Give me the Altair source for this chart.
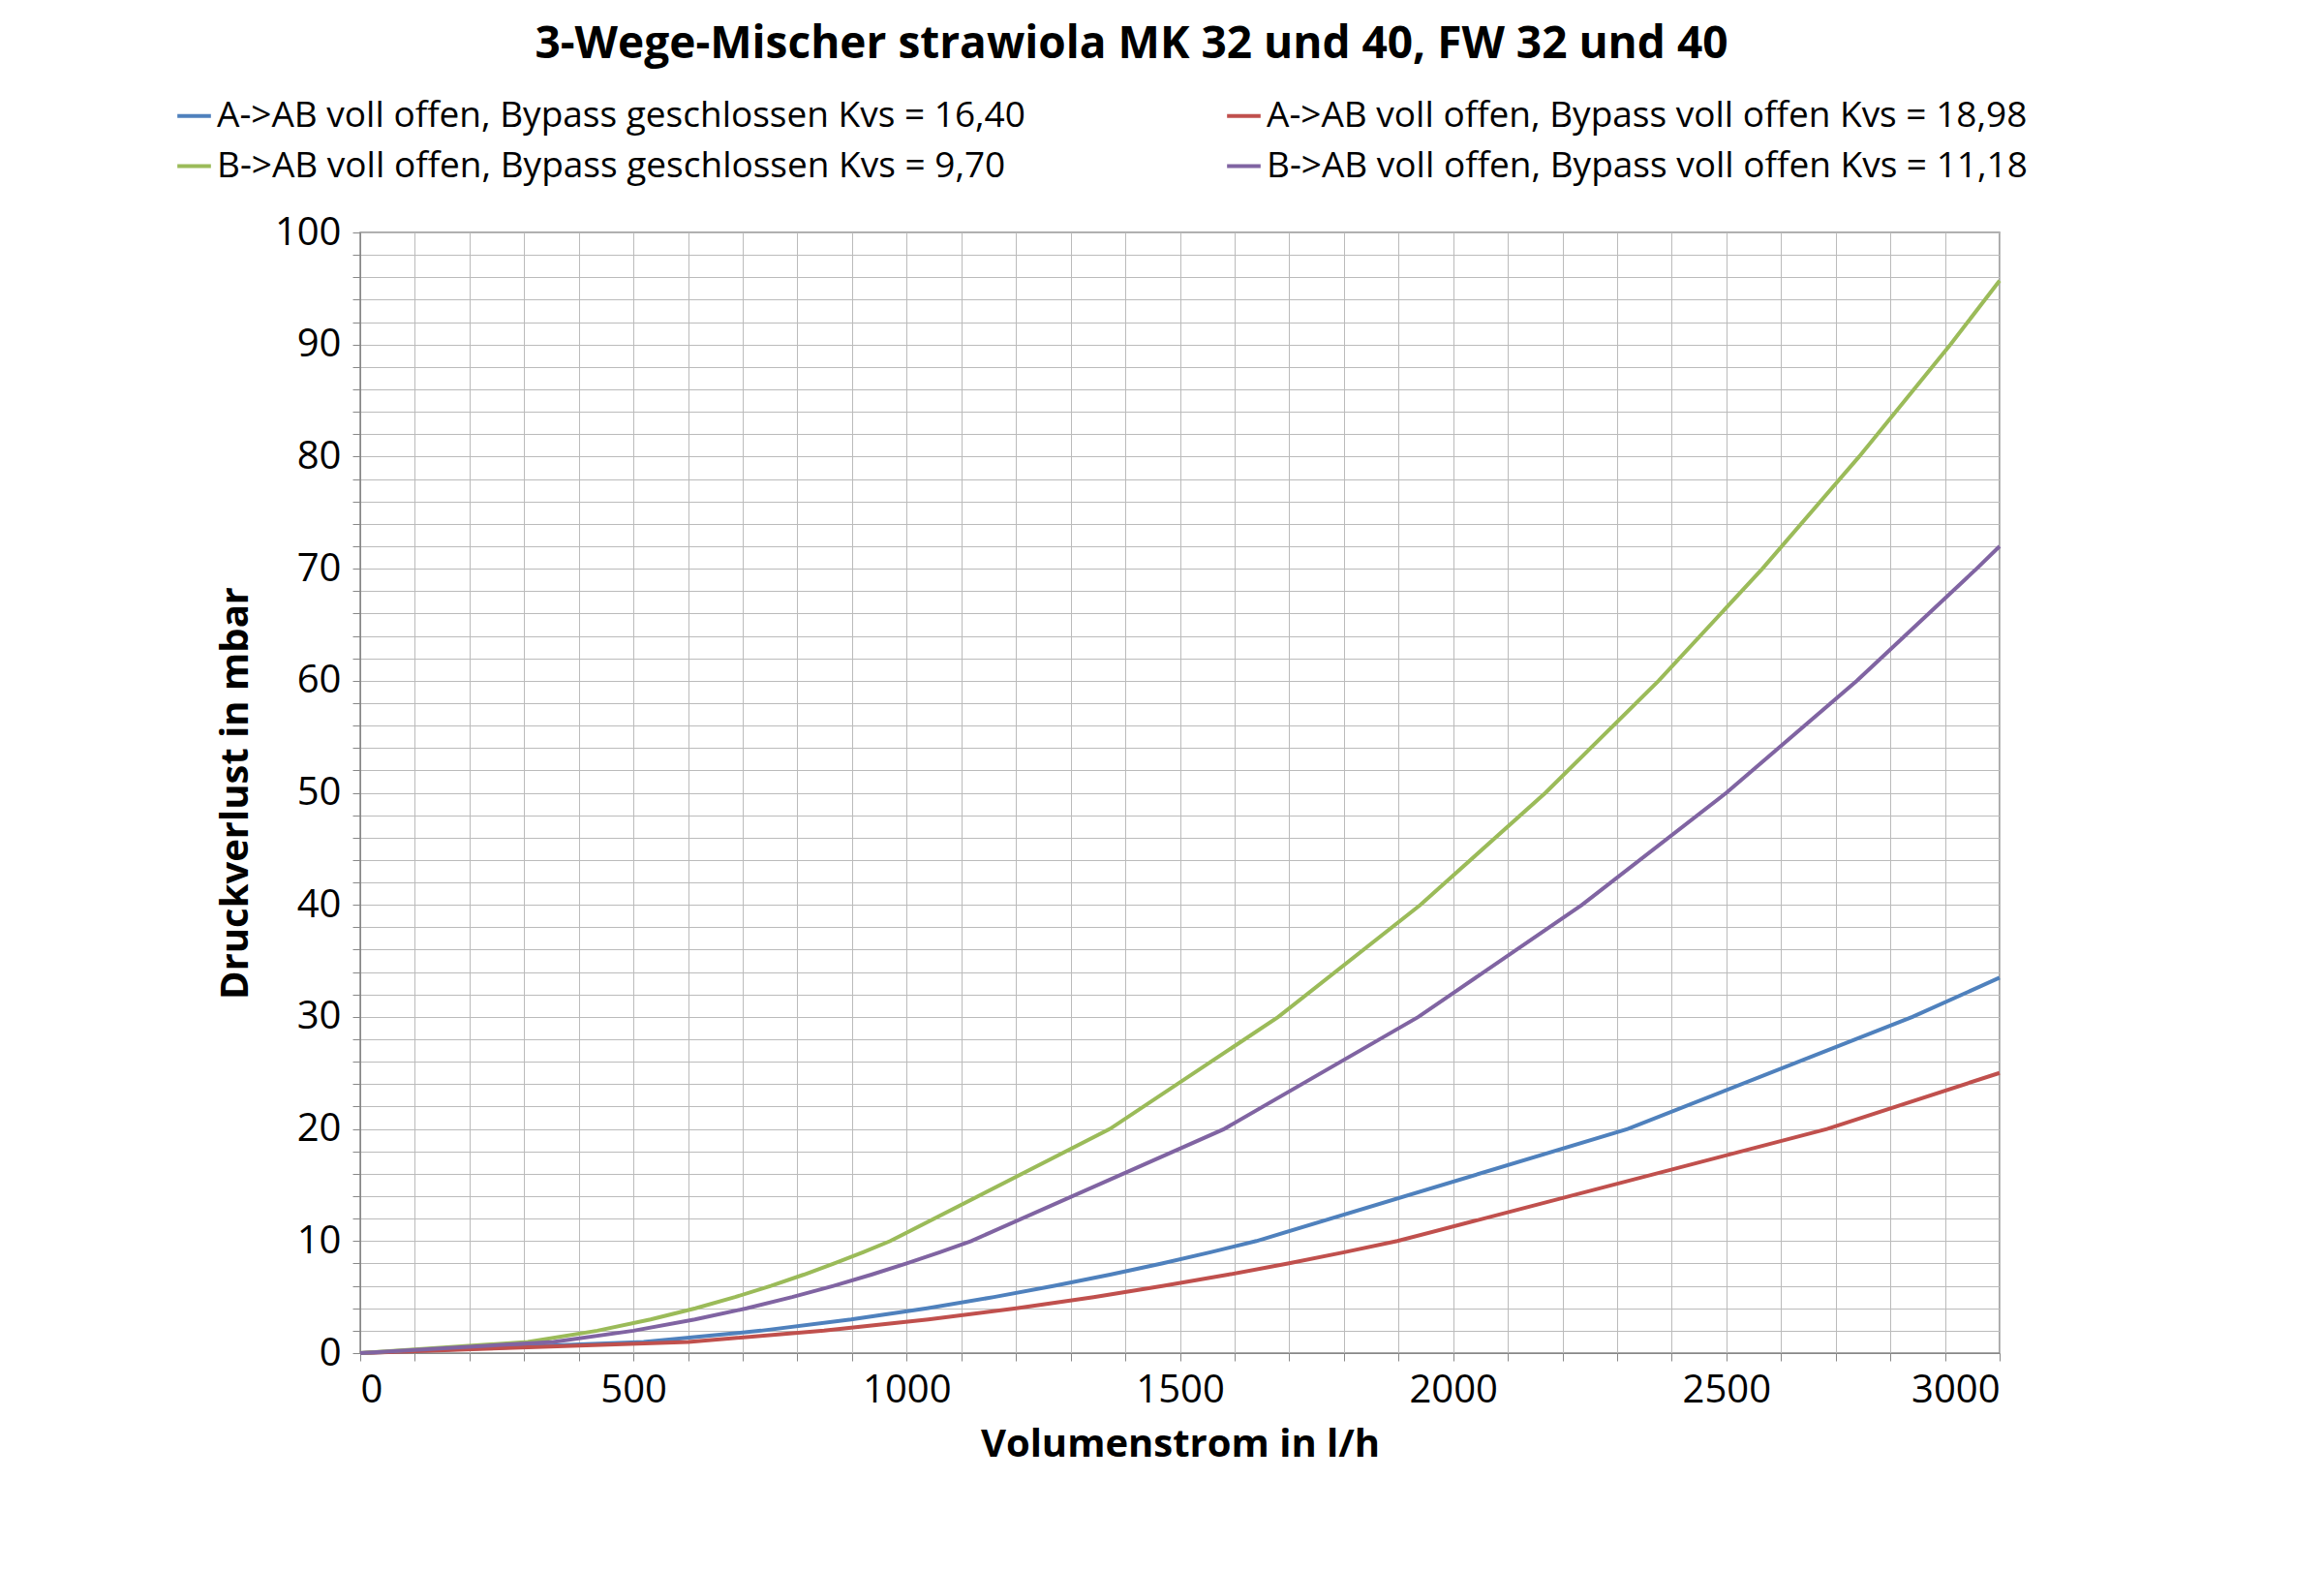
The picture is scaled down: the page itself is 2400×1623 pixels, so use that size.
import altair as alt
import pandas as pd

s_blue = "A->AB voll offen, Bypass geschlossen Kvs = 16,40"
s_red = "A->AB voll offen, Bypass voll offen Kvs = 18,98"
s_green = "B->AB voll offen, Bypass geschlossen Kvs = 9,70"
s_purple = "B->AB voll offen, Bypass voll offen Kvs = 11,18"

green_q = [0, 306.7, 433.8, 531.3, 613.5, 685.9, 751.4, 811.6, 867.6, 920.2, 970, 1371.8, 1680.1, 1940, 2169, 2376, 2566, 2743, 2910, 3000]
green_dp = [0, 1, 2, 3, 4, 5, 6, 7, 8, 9, 10, 20, 30, 40, 50, 60, 70, 80, 90, 95.7]
purple_q = [0, 353.5, 500, 612.4, 707.1, 790.5, 866, 935.4, 1000, 1060.6, 1118, 1581, 1936.4, 2236, 2500, 2739, 2958, 3000]
purple_dp = [0, 1, 2, 3, 4, 5, 6, 7, 8, 9, 10, 20, 30, 40, 50, 60, 70, 72.0]
blue_q = [0, 518.6, 733.4, 898.3, 1037.2, 1159.7, 1270.3, 1372.1, 1466.8, 1555.8, 1640, 2319.3, 2840.5, 3000]
blue_dp = [0, 1, 2, 3, 4, 5, 6, 7, 8, 9, 10, 20, 30, 33.5]
red_q = [0, 600.2, 848.8, 1039.6, 1200.4, 1342.1, 1470.2, 1588, 1697.6, 1800.6, 1898, 2684.2, 3000]
red_dp = [0, 1, 2, 3, 4, 5, 6, 7, 8, 9, 10, 20, 25.0]

rows = []
for name, qs, ds in [(s_blue, blue_q, blue_dp), (s_red, red_q, red_dp),
                     (s_green, green_q, green_dp), (s_purple, purple_q, purple_dp)]:
    for i, (q, d) in enumerate(zip(qs, ds)):
        rows.append({"serie": name, "q": q, "dp": d, "i": i})
df = pd.DataFrame(rows)

order = [s_blue, s_red, s_green, s_purple]
colors = ["#4F81BD", "#C0504D", "#9BBB59", "#8064A2"]
font = "Open Sans"

chart = alt.Chart(df).mark_line(strokeWidth=4).encode(
    x=alt.X("q:Q", scale=alt.Scale(domain=[0, 3000], nice=False),
            axis=alt.Axis(values=list(range(0, 3001, 100)),
                          labelExpr="datum.value % 500 == 0 ? datum.label : ''",
                          format="d", title="Volumenstrom in l/h",
                          titleFontSize=40, titleFontWeight="bold", titlePadding=16,
                          labelFontSize=40, labelPadding=10, tickSize=8,
                          gridColor="#BBBBBB", domainColor="#888888", tickColor="#888888",
                          labelColor="black", titleColor="black")),
    y=alt.Y("dp:Q", scale=alt.Scale(domain=[0, 100], nice=False),
            axis=alt.Axis(values=list(range(0, 101, 2)),
                          labelExpr="datum.value % 10 == 0 ? datum.label : ''",
                          title="Druckverlust in mbar",
                          titleFontSize=40, titleFontWeight="bold", titlePadding=20,
                          labelFontSize=40, labelPadding=12, tickSize=8,
                          gridColor="#BBBBBB", domainColor="#888888", tickColor="#888888",
                          labelColor="black", titleColor="black")),
    color=alt.Color("serie:N", scale=alt.Scale(domain=order, range=colors),
                    legend=alt.Legend(title=None, orient="none", legendX=-191, legendY=-140,
                                      direction="horizontal",
                                      columns=2, columnPadding=200, rowPadding=14,
                                      symbolType="stroke", symbolStrokeWidth=4, symbolSize=1200,
                                      labelFontSize=37, labelLimit=1500, labelColor="black")),
    order="i:Q",
).properties(
    width=1693, height=1157,
    title=alt.TitleParams("3-Wege-Mischer strawiola MK 32 und 40, FW 32 und 40",
                          fontSize=46, fontWeight="bold", offset=30, dx=-50, color="black"),
    autosize=alt.AutoSizeParams(type="none"),
    padding={"left": 364, "top": 232, "right": 327, "bottom": 218},
).configure(font=font).configure_view(stroke="#888888", strokeWidth=1.5)

chart.save("out.html", embed_options={"renderer": "svg", "actions": False})
